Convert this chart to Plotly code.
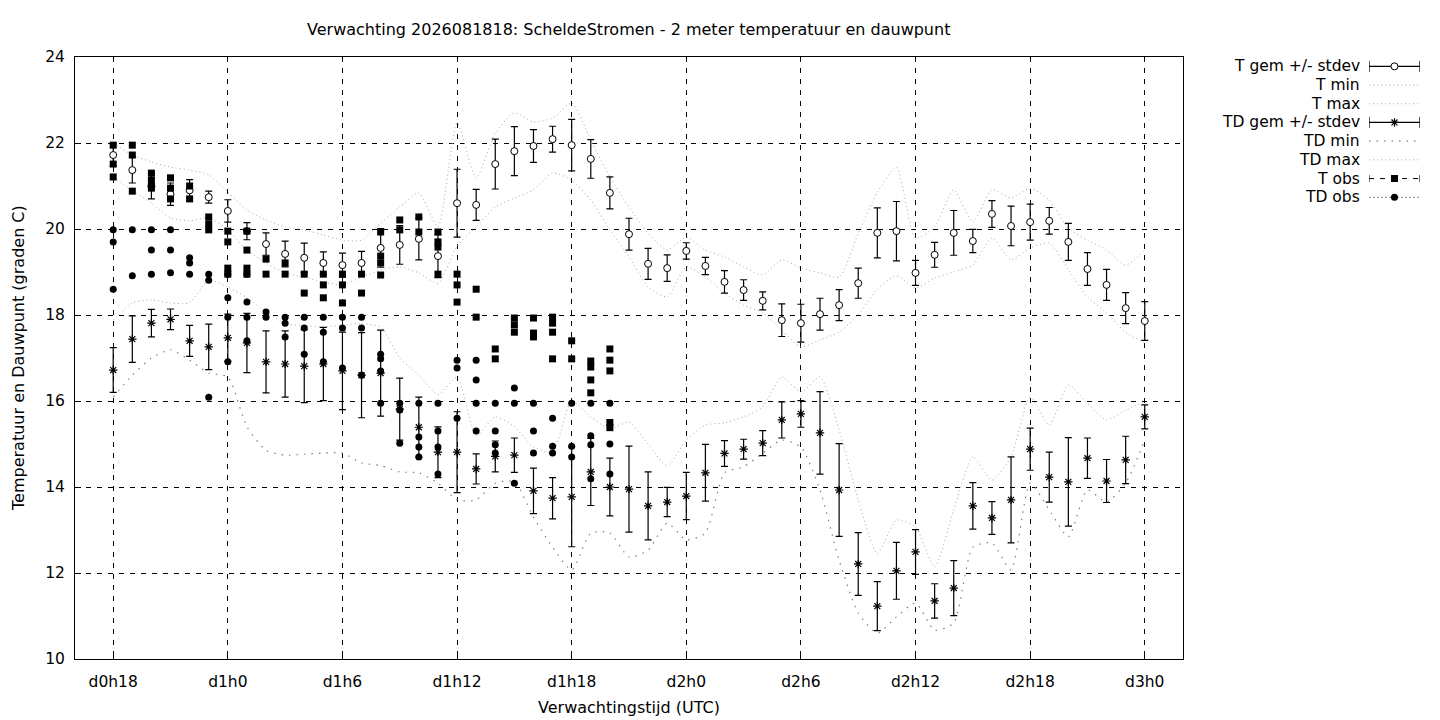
import plotly.graph_objects as go

# forecast hours since d0h0 (one point per hour)
hours = list(range(18, 73))

t_mean = [21.72, 21.37, 21.0, 20.81, 20.9, 20.74, 20.42, 19.95, 19.65, 19.42,
          19.33, 19.21, 19.16, 19.21, 19.56, 19.63, 19.77, 19.37, 20.6, 20.56,
          21.51, 21.81, 21.93, 22.09, 21.95, 21.63, 20.84, 19.88, 19.19, 19.09,
          19.49, 19.14, 18.77, 18.58, 18.33, 17.88, 17.81, 18.02, 18.23, 18.74,
          19.91, 19.95, 18.98, 19.4, 19.91, 19.72, 20.35, 20.07, 20.16, 20.19,
          19.7, 19.07, 18.7, 18.16, 17.86]
t_sd = [0.26, 0.3, 0.3, 0.26, 0.25, 0.14, 0.26, 0.2, 0.26, 0.3,
        0.34, 0.26, 0.28, 0.27, 0.45, 0.45, 0.49, 0.5, 0.79, 0.36,
        0.58, 0.57, 0.38, 0.3, 0.6, 0.45, 0.37, 0.37, 0.36, 0.31,
        0.19, 0.2, 0.26, 0.24, 0.21, 0.38, 0.44, 0.37, 0.36, 0.35,
        0.58, 0.69, 0.29, 0.29, 0.52, 0.27, 0.31, 0.46, 0.42, 0.31,
        0.43, 0.38, 0.36, 0.36, 0.45]
t_min = [21.2, 20.9, 20.6, 20.26, 20.19, 20.26, 19.98, 19.51, 19.21, 18.98,
         18.88, 18.77, 18.7, 18.88, 19.05, 19.12, 18.98, 18.74, 19.6, 20.05,
         20.51, 20.72, 20.91, 21.3, 21.14, 20.67, 19.98, 19.35, 18.65, 18.42,
         19.12, 18.88, 18.51, 18.23, 18.05, 17.65, 17.26, 17.42, 17.6, 18.0,
         18.6, 18.91, 18.63, 18.86, 19.0, 19.16, 19.79, 19.28, 19.56, 19.67,
         19.05, 18.42, 18.05, 17.6, 17.35]
t_max = [22.0, 21.72, 21.56, 21.44, 21.37, 21.26, 20.86, 20.44, 20.21, 20.05,
         19.98, 19.86, 19.74, 19.74, 20.14, 20.51, 20.84, 20.05, 22.47, 21.19,
         22.23, 22.7, 22.49, 22.58, 22.93, 22.07, 21.21, 20.51, 19.9, 19.51,
         19.81, 19.51, 19.35, 19.12, 18.93, 19.28, 19.09, 18.98, 18.88, 19.9,
         20.85, 21.44, 19.79, 20.05, 20.91, 20.16, 20.91, 20.72, 20.95, 20.67,
         20.02, 19.74, 19.51, 19.16, 19.51]

td_mean = [16.72, 17.44, 17.81, 17.9, 17.4, 17.26, 17.47, 17.35, 16.91, 16.86,
           16.81, 16.86, 16.7, 16.6, 16.65, 15.81, 15.39, 14.81, 14.81, 14.42,
           14.71, 14.74, 13.91, 13.74, 13.77, 14.35, 14.0, 13.95, 13.56, 13.65,
           13.79, 14.33, 14.78, 14.88, 15.02, 15.56, 15.7, 15.26, 13.93, 12.21,
           11.23, 12.05, 12.49, 11.35, 11.65, 13.56, 13.28, 13.7, 14.88, 14.23,
           14.12, 14.67, 14.14, 14.63, 15.63]
td_sd = [0.52, 0.54, 0.32, 0.24, 0.36, 0.53, 0.55, 0.69, 0.72, 0.77,
         0.85, 0.85, 0.9, 0.99, 1.0, 0.72, 0.7, 0.59, 0.94, 0.35,
         0.36, 0.4, 0.53, 0.48, 1.16, 0.78, 0.67, 1.0, 0.79, 0.34,
         0.55, 0.66, 0.3, 0.23, 0.29, 0.42, 0.31, 0.96, 1.08, 0.73,
         0.57, 0.66, 0.52, 0.4, 0.64, 0.54, 0.38, 1.0, 0.49, 0.58,
         1.03, 0.47, 0.5, 0.55, 0.28]
td_min = [16.1, 16.6, 17.0, 17.19, 16.95, 16.65, 16.56, 15.4, 14.85, 14.74,
          14.76, 14.79, 14.79, 14.56, 14.5, 14.35, 14.33, 14.09, 13.7, 13.7,
          14.09, 14.12, 13.3, 12.6, 12.07, 12.93, 12.93, 12.37, 12.53, 13.16,
          12.77, 12.93, 14.33, 14.47, 14.79, 15.09, 14.93, 13.93, 12.3, 11.07,
          10.6, 10.98, 11.3, 10.67, 10.84, 12.6, 12.7, 12.07, 14.09, 13.47,
          12.84, 13.93, 13.65, 14.09, 15.09]
td_max = [17.88, 18.28, 18.35, 18.28, 18.28, 18.81, 18.65, 18.4, 18.07, 17.8,
          17.75, 17.72, 17.77, 17.8, 17.72, 17.0, 16.6, 16.15, 16.55, 15.2,
          15.63, 15.4, 14.93, 14.81, 16.0, 15.63, 15.35, 15.51, 15.0, 14.49,
          15.09, 15.44, 15.49, 15.63, 15.86, 16.56, 16.21, 16.56, 15.33, 13.7,
          12.45, 13.23, 13.07, 12.14, 13.47, 14.7, 14.16, 14.7, 16.09, 15.44,
          16.37, 15.95, 15.56, 15.79, 15.98]

# observations (several stations per hour)
t_obs_hour = [18, 18, 18, 19, 19, 19, 20, 20, 20, 20, 21, 21, 21, 22, 22,
              23, 23, 23, 24, 24, 24, 24, 25, 25, 25, 25, 26, 26, 27, 27,
              28, 28, 29, 29, 29, 30, 30, 30, 31, 31, 32, 32, 32, 32, 33, 33,
              34, 34, 35, 35, 35, 35, 36, 36, 36, 37, 37, 38, 38, 39, 39, 39,
              40, 40, 40, 41, 41, 41, 41, 42, 42, 43, 43, 43, 43,
              44, 44, 44, 44, 44]
t_obs = [21.95, 21.51, 21.21, 21.95, 21.72, 20.88, 21.3, 21.14, 21.0, 20.95,
         21.19, 20.95, 20.7, 21.0, 20.7, 20.28, 20.12, 19.98,
         19.95, 19.7, 19.09, 18.95, 19.95, 19.51, 19.09, 18.95, 19.3, 18.95,
         19.21, 18.95, 18.95, 18.51, 18.95, 18.7, 18.4, 18.95, 18.7, 18.28,
         18.95, 18.51, 19.93, 19.37, 19.21, 18.93, 20.21, 19.98, 20.28, 19.93,
         19.93, 19.7, 19.58, 18.95, 18.95, 18.7, 18.3, 18.6, 17.95, 17.21, 16.98,
         17.93, 17.77, 17.6, 17.93, 17.58, 17.49, 17.95, 17.81, 17.6, 16.98,
         17.4, 16.98, 16.93, 16.79, 16.49, 16.19,
         17.21, 16.95, 16.7, 15.5, 15.38]

td_obs_hour = [18, 18, 18, 19, 19, 20, 20, 20, 21, 21, 21, 22, 22, 22,
               23, 23, 23, 24, 24, 24, 24, 25, 25, 25, 25, 26, 26, 27, 27, 27,
               28, 28, 28, 29, 29, 29, 30, 30, 30, 31, 31, 31, 32, 32, 32, 32,
               33, 33, 33, 34, 34, 34, 34, 35, 35, 35, 35, 36, 36, 36,
               37, 37, 37, 37, 38, 38, 38, 38, 39, 39, 39, 40, 40, 40,
               41, 41, 41, 42, 42, 42, 43, 43, 43, 43, 44, 44, 44]
td_obs = [19.98, 19.7, 18.6, 19.98, 18.91, 19.98, 19.51, 18.95, 19.98, 19.51, 18.98,
          19.33, 19.21, 18.95, 18.95, 18.81, 16.09, 18.95, 18.4, 17.95, 16.91,
          18.95, 18.3, 17.95, 17.4, 18.07, 17.95, 17.95, 17.81, 17.49,
          17.95, 17.7, 17.09, 17.95, 17.6, 16.91, 17.95, 17.7, 16.77,
          17.95, 17.7, 16.6, 17.09, 16.98, 16.7, 15.95, 15.95, 15.79, 15.02,
          15.95, 15.16, 14.93, 14.7, 15.95, 15.3, 14.93, 14.3, 16.95, 16.77, 15.6,
          16.95, 16.49, 15.95, 15.3, 15.95, 15.3, 14.98, 14.79, 16.3, 15.95, 14.09,
          15.95, 15.3, 14.79, 15.6, 14.95, 14.79, 15.95, 14.95, 14.7,
          15.95, 15.19, 14.98, 14.19, 15.95, 15.0, 14.3]

tick_hours = [18, 24, 30, 36, 42, 48, 54, 60, 66, 72]
tick_labels = ["d0h18", "d1h0", "d1h6", "d1h12", "d1h18", "d2h0", "d2h6",
               "d2h12", "d2h18", "d3h0"]
legend_names = ["T gem +/- stdev", "T min", "T max", "TD gem +/- stdev",
                "TD min", "TD max", "T obs", "TD obs"]

FONT = "DejaVu Sans"
LIGHT = "#a8a8a8"
DARK = "#808080"
T_DOT = "1px,3px"
TD_DOT = "1.5px,6px"

fig = go.Figure()

# min / max envelopes
fig.add_trace(go.Scatter(x=hours, y=t_min, mode="lines", line=dict(color=LIGHT, width=1, dash=T_DOT, shape="spline", smoothing=0.6)))
fig.add_trace(go.Scatter(x=hours, y=t_max, mode="lines", line=dict(color=LIGHT, width=1, dash=T_DOT, shape="spline", smoothing=0.6)))
fig.add_trace(go.Scatter(x=hours, y=td_min, mode="lines", line=dict(color=DARK, width=1.2, dash=TD_DOT, shape="spline", smoothing=0.6)))
fig.add_trace(go.Scatter(x=hours, y=td_max, mode="lines", line=dict(color=LIGHT, width=1, dash=T_DOT, shape="spline", smoothing=0.6)))

# means with stdev
fig.add_trace(go.Scatter(x=hours, y=t_mean, mode="markers",
                         error_y=dict(type="data", array=t_sd, color="black", thickness=1.2, width=3.5),
                         marker=dict(symbol="circle", size=7, color="white", line=dict(color="black", width=1))))
fig.add_trace(go.Scatter(x=hours, y=td_mean, mode="markers",
                         error_y=dict(type="data", array=td_sd, color="black", thickness=1.2, width=3.5),
                         marker=dict(symbol="asterisk-open", size=7, color="black", line=dict(color="black", width=1.2))))

# observations (drawn on top, as in the original)
fig.add_trace(go.Scatter(x=t_obs_hour, y=t_obs, mode="markers",
                         marker=dict(symbol="square", size=7, color="black")))
fig.add_trace(go.Scatter(x=td_obs_hour, y=td_obs, mode="markers",
                         marker=dict(symbol="circle", size=7, color="black")))

# legend samples drawn on a small side axis (gnuplot style key)
rows = list(range(1, len(legend_names) + 1))
seg = [0, 1]
fig.add_trace(go.Scatter(x=seg, y=[1, 1], xaxis="x2", yaxis="y2", mode="lines", line=dict(color="black", width=1.2)))
fig.add_trace(go.Scatter(x=seg, y=[1, 1], xaxis="x2", yaxis="y2", mode="markers",
                         marker=dict(symbol="line-ns", size=8, color="black", line=dict(color="black", width=1.2))))
fig.add_trace(go.Scatter(x=[0.5], y=[1], xaxis="x2", yaxis="y2", mode="markers",
                         marker=dict(symbol="circle", size=7, color="white", line=dict(color="black", width=1))))
for r, colr, dash, w in [(2, LIGHT, T_DOT, 1), (3, LIGHT, T_DOT, 1), (5, DARK, TD_DOT, 1.2), (6, LIGHT, T_DOT, 1)]:
    fig.add_trace(go.Scatter(x=seg, y=[r, r], xaxis="x2", yaxis="y2", mode="lines", line=dict(color=colr, width=w, dash=dash)))
fig.add_trace(go.Scatter(x=seg, y=[4, 4], xaxis="x2", yaxis="y2", mode="lines", line=dict(color="black", width=1.2)))
fig.add_trace(go.Scatter(x=seg, y=[4, 4], xaxis="x2", yaxis="y2", mode="markers",
                         marker=dict(symbol="line-ns", size=8, color="black", line=dict(color="black", width=1.2))))
fig.add_trace(go.Scatter(x=[0.5], y=[4], xaxis="x2", yaxis="y2", mode="markers",
                         marker=dict(symbol="asterisk-open", size=7, color="black", line=dict(color="black", width=1.2))))
fig.add_trace(go.Scatter(x=seg, y=[7, 7], xaxis="x2", yaxis="y2", mode="lines", line=dict(color="black", width=1, dash="5px,6px")))
fig.add_trace(go.Scatter(x=seg, y=[7, 7], xaxis="x2", yaxis="y2", mode="markers",
                         marker=dict(symbol="line-ns", size=5, color="black", line=dict(color="black", width=1))))
fig.add_trace(go.Scatter(x=[0.5], y=[7], xaxis="x2", yaxis="y2", mode="markers", marker=dict(symbol="square", size=7, color="black")))
fig.add_trace(go.Scatter(x=seg, y=[8, 8], xaxis="x2", yaxis="y2", mode="lines", line=dict(color=DARK, width=1, dash="2px,2px")))
fig.add_trace(go.Scatter(x=[0.5], y=[8], xaxis="x2", yaxis="y2", mode="markers", marker=dict(symbol="circle", size=7, color="black")))

annotations = [dict(text=name, xref="paper", yref="y2", x=0.9429, y=r, xanchor="right", yanchor="middle",
                    showarrow=False, font=dict(family=FONT, size=15.5, color="black"))
               for name, r in zip(legend_names, rows)]
annotations += [
    dict(text="Verwachting 2026081818: ScheldeStromen - 2 meter temperatuur en dauwpunt",
         xref="x domain", yref="paper", x=0.5, y=1.0465, xanchor="center", yanchor="middle",
         showarrow=False, font=dict(family=FONT, size=16, color="black")),
    dict(text="Verwachtingstijd (UTC)", xref="x domain", yref="paper", x=0.5, y=-0.08,
         xanchor="center", yanchor="middle", showarrow=False, font=dict(family=FONT, size=16, color="black")),
    dict(text="Temperatuur en Dauwpunt (graden C)", xref="paper", yref="paper", x=-0.0418, y=0.5,
         xanchor="center", yanchor="middle", textangle=-90, showarrow=False,
         font=dict(family=FONT, size=16, color="black")),
]

axis_common = dict(showline=True, linecolor="black", linewidth=1, mirror=True,
                   showgrid=True, gridcolor="black", gridwidth=1, griddash="5px,6px",
                   ticks="inside", ticklen=6, tickcolor="black", zeroline=False,
                   tickfont=dict(family=FONT, size=15.5, color="black"))

# the page adds an 8px body margin, so the figure is shifted by that much
fig.update_layout(
    width=1432, height=712,
    margin=dict(l=67, r=0, t=49, b=61),
    paper_bgcolor="white", plot_bgcolor="white",
    showlegend=False,
    annotations=annotations,
    xaxis=dict(domain=[0, 0.8117], range=[16, 74], tickvals=tick_hours, ticktext=tick_labels,
               ticklabelstandoff=8, **axis_common),
    yaxis=dict(range=[10, 24], dtick=2, ticklabelstandoff=6, **axis_common),
    xaxis2=dict(domain=[0.948, 0.9853], range=[0, 1], visible=False, anchor="y2"),
    yaxis2=dict(domain=[0.7515, 1], range=[8.5, 0.5], visible=False, anchor="x2"),
)

fig.write_html("out.html")
